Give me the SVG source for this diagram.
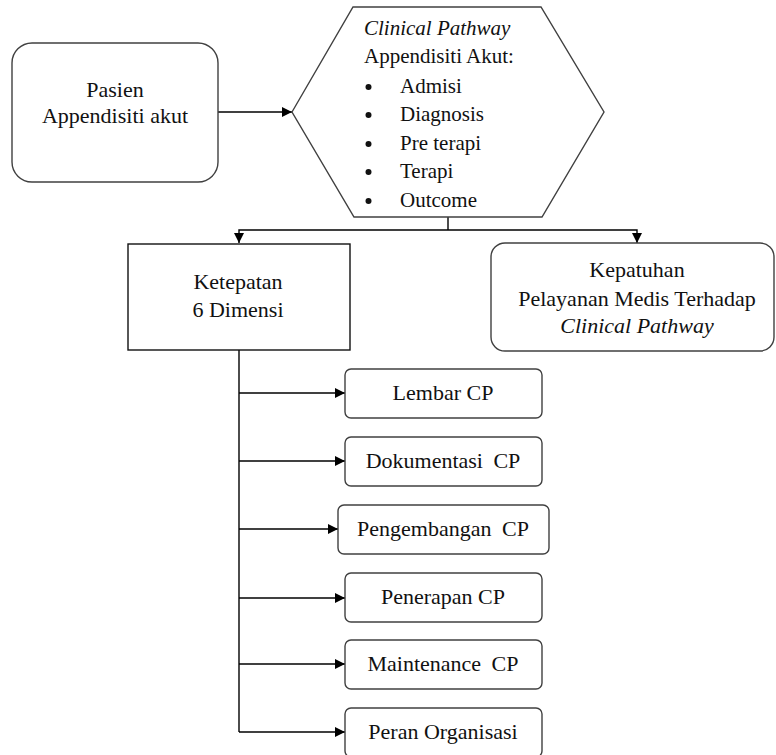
<svg xmlns="http://www.w3.org/2000/svg" width="776" height="755" viewBox="0 0 776 755">
<defs>
<marker id="arr" viewBox="0 0 10 10" refX="10" refY="5" markerWidth="10" markerHeight="10" markerUnits="userSpaceOnUse" orient="auto">
<path d="M0,0 L10,5 L0,10 Z" fill="#000"/>
</marker>
<style>
.box{fill:#fff;stroke:#404040;stroke-width:1.4}
.sq{fill:#fff;stroke:#111;stroke-width:1.4}
.t{font-family:"Liberation Serif","Times New Roman",serif;font-size:22px;fill:#111;text-anchor:middle}
.h{font-family:"Liberation Serif","Times New Roman",serif;font-size:21px;fill:#111}
.i{font-style:italic}
.w{word-spacing:5px}
.b{fill:#111}
.c{fill:none;stroke:#000;stroke-width:1.4}
</style>
</defs>
<rect width="776" height="755" fill="#fff"/>
<g id="connectors">
<path class="c" d="M218,112 H292" marker-end="url(#arr)"/>
<path class="c" d="M448,217 V230"/>
<path class="c" d="M448,230 H239 V243" marker-end="url(#arr)"/>
<path class="c" d="M448,230 H637 V243" marker-end="url(#arr)"/>
<path class="c" d="M239,350 V732"/>
<path class="c" d="M239,393 H345" marker-end="url(#arr)"/>
<path class="c" d="M239,461 H345" marker-end="url(#arr)"/>
<path class="c" d="M239,529 H338" marker-end="url(#arr)"/>
<path class="c" d="M239,598 H345" marker-end="url(#arr)"/>
<path class="c" d="M239,664 H345" marker-end="url(#arr)"/>
<path class="c" d="M239,732 H345" marker-end="url(#arr)"/>
</g>
<g id="pasien">
<rect class="box" x="12" y="43" width="206" height="139" rx="20"/>
<text class="t" x="115" y="97">Pasien</text>
<text class="t" x="115" y="123">Appendisiti akut</text>
</g>
<g id="clinical-pathway">
<polygon class="box" points="292,112 353,7 541,7 604,112 542,217 354,217"/>
<text class="h i" x="364" y="35">Clinical Pathway</text>
<text class="h" x="364" y="63">Appendisiti Akut:</text>
<circle class="b" cx="368.5" cy="87" r="3"/><text class="h" x="400" y="93">Admisi</text>
<circle class="b" cx="368.5" cy="115" r="3"/><text class="h" x="400" y="121">Diagnosis</text>
<circle class="b" cx="368.5" cy="144" r="3"/><text class="h" x="400" y="150">Pre terapi</text>
<circle class="b" cx="368.5" cy="172" r="3"/><text class="h" x="400" y="178">Terapi</text>
<circle class="b" cx="368.5" cy="201" r="3"/><text class="h" x="400" y="207">Outcome</text>
</g>
<g id="ketepatan">
<rect class="sq" x="128" y="244" width="222" height="106"/>
<text class="t" x="238" y="289">Ketepatan</text>
<text class="t" x="238" y="317">6 Dimensi</text>
</g>
<g id="kepatuhan">
<rect class="box" x="491" y="243" width="283" height="108" rx="14"/>
<text class="t" x="637" y="277">Kepatuhan</text>
<text class="t" x="637" y="306">Pelayanan Medis Terhadap</text>
<text class="t i" x="637" y="333">Clinical Pathway</text>
</g>
<g id="lembar">
<rect class="box" x="345" y="369" width="197" height="49" rx="6"/>
<text class="t" x="443" y="400">Lembar CP</text>
</g>
<g id="dokumentasi">
<rect class="box" x="345" y="437" width="197" height="49" rx="6"/>
<text class="t w" x="443" y="468">Dokumentasi CP</text>
</g>
<g id="pengembangan">
<rect class="box" x="338" y="505" width="211" height="49" rx="6"/>
<text class="t w" x="443" y="536">Pengembangan CP</text>
</g>
<g id="penerapan">
<rect class="box" x="345" y="573" width="197" height="49" rx="6"/>
<text class="t" x="443" y="604">Penerapan CP</text>
</g>
<g id="maintenance">
<rect class="box" x="345" y="640" width="197" height="49" rx="6"/>
<text class="t w" x="443" y="671">Maintenance CP</text>
</g>
<g id="peran">
<rect class="box" x="345" y="708" width="197" height="49" rx="6"/>
<text class="t" x="443" y="739">Peran Organisasi</text>
</g>
</svg>
